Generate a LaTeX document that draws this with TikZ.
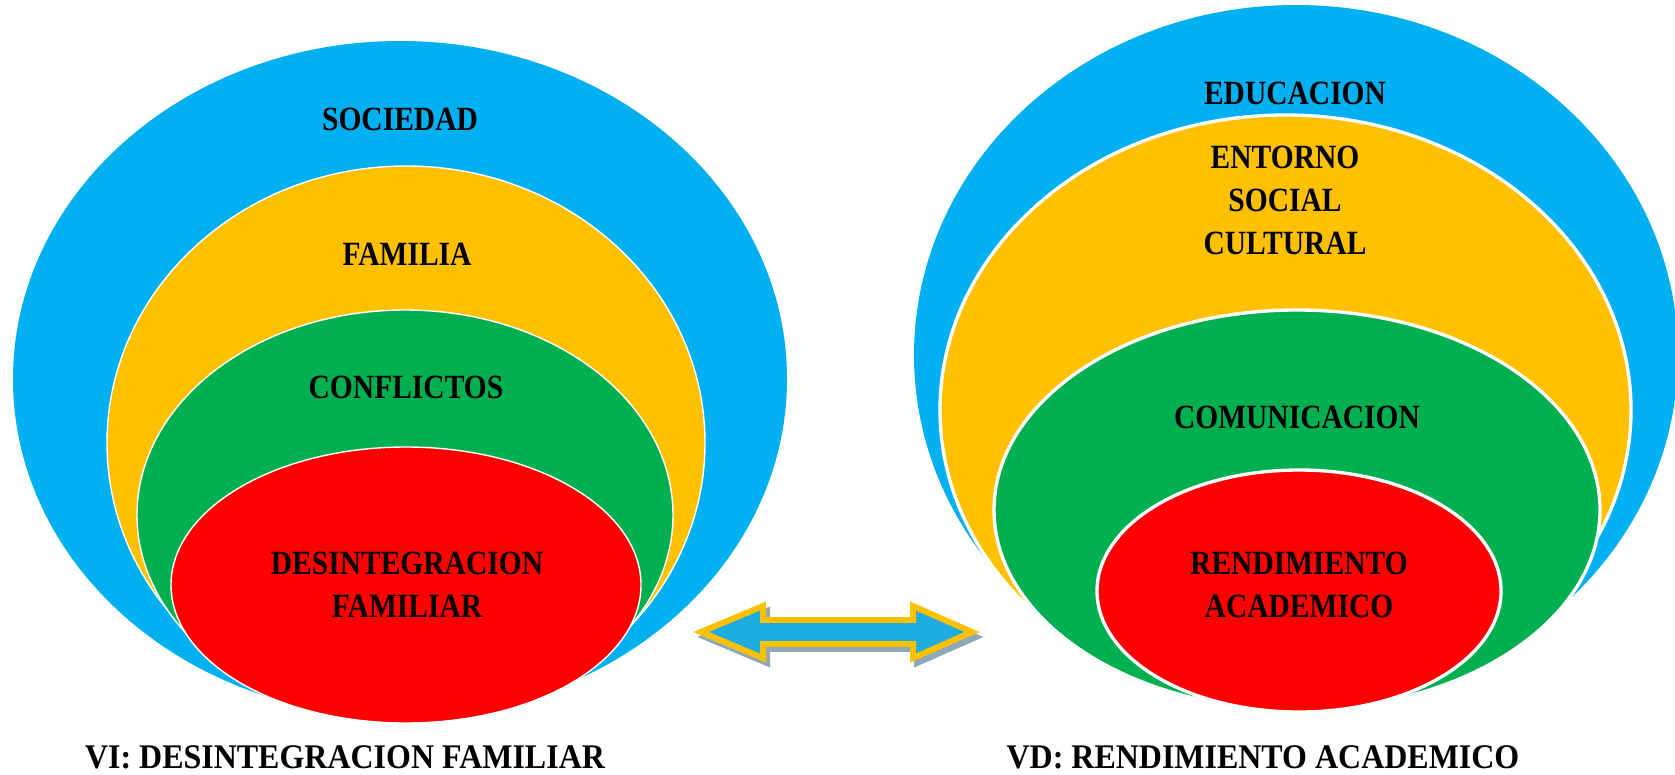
\documentclass[tikz,border=0pt]{standalone}
\usepackage{fontspec}
\setmainfont{Liberation Serif}
\usepackage{tikz}
\usetikzlibrary{calc}

\definecolor{cielo}{HTML}{00B0F0}
\definecolor{ambar}{HTML}{FFC000}
\definecolor{verde}{HTML}{00B050}
\definecolor{rojo}{HTML}{FF0000}
\definecolor{flecha}{HTML}{1FACE0}
\definecolor{sombra}{HTML}{8FA9B9}

\begin{document}
\begin{tikzpicture}[x=0.02cm,y=-0.02cm,
	ring/.style={draw=white,line width=0.8pt},
	ringb/.style={draw=white,line width=1.9pt},
	lbl/.style={font=\fontsize{16.8}{21.3}\selectfont\bfseries,align=center,inner sep=0pt,yscale=1.15,transform shape},
	pie/.style={lbl,font=\fontsize{18.2}{20}\selectfont\bfseries,yscale=1.08/1.15}]
	\useasboundingbox (0,0) rectangle (1675,774);
	\clip (0,0) rectangle (1675,774);
	% VI
	\fill[cielo] (400,379) ellipse [x radius=387,y radius=338];
	\filldraw[ring,fill=ambar] (406,443) ellipse [x radius=299,y radius=277];
	\filldraw[ring,fill=verde] (405,515) ellipse [x radius=268,y radius=205];
	\filldraw[ring,fill=rojo] (406,585) ellipse [x radius=235,y radius=138];
	\node[lbl] (soc) at (400,119) {SOCIEDAD};
	\node[lbl] (fam) at (407,254) {FAMILIA};
	\node[lbl] (conf) at (406,387) {CONFLICTOS};
	\node[lbl] (desint) at (407,585) {DESINTEGRACION\\FAMILIAR};
	% VD
	\fill[cielo] (1296,355) ellipse [x radius=382,y radius=350];
	\filldraw[ringb,fill=ambar] (1285.5,410) ellipse [x radius=345.5,y radius=295];
	\filldraw[ringb,fill=verde] (1297,510) ellipse [x radius=303,y radius=200];
	\filldraw[ringb,fill=rojo] (1299,591) ellipse [x radius=202,y radius=121];
	\node[lbl] (edu) at (1295,93) {EDUCACION};
	\node[lbl] (entorno) at (1285,200) {ENTORNO\\SOCIAL\\CULTURAL};
	\node[lbl] (comun) at (1297,417) {COMUNICACION};
	\node[lbl] (rend) at (1299,585) {RENDIMIENTO\\ACADEMICO};
	% double arrow
	\filldraw[sombra,line width=3.4pt,shift={(4,5)}] (701,632) -- (763,606) -- (763,620) -- (913,620) -- (913,606) -- (972,632)
		-- (913,658) -- (913,644) -- (763,644) -- (763,658) -- cycle;
	\filldraw[draw=ambar,fill=flecha,line width=3.4pt] (701,632) -- (763,606) -- (763,620) -- (913,620) -- (913,606) -- (972,632)
		-- (913,658) -- (913,644) -- (763,644) -- (763,658) -- cycle;
	\node[pie] (vi) at (345,757) {VI: DESINTEGRACION FAMILIAR};
	\node[pie] (vd) at (1263,757) {VD: RENDIMIENTO ACADEMICO};
\end{tikzpicture}
\end{document}
